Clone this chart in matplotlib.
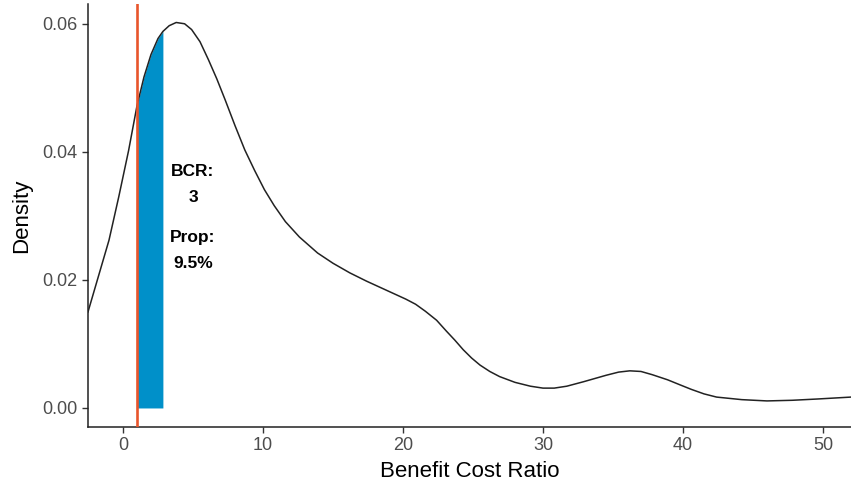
import numpy as np
import matplotlib.pyplot as plt

# density curve (x = benefit cost ratio, y = density)
bcr = [-2.5, -1.75, -1.0, -0.3, 0.4, 1.0, 1.5, 2.0, 2.5, 2.85, 3.3, 3.8,
       4.4, 4.9, 5.5, 6.1, 6.7, 7.3, 8.0, 8.7, 9.4, 10.1, 10.8, 11.6, 12.6,
       13.9, 15.0, 16.2, 17.4, 18.4, 19.4, 20.2, 20.9, 21.6, 22.4, 23.1,
       23.7, 24.3, 24.9, 25.5, 26.2, 26.9, 28.0, 29.1, 30.0, 30.8, 31.7,
       32.9, 34.5, 35.4, 36.2, 37.0, 37.8, 38.9, 39.8, 40.6, 41.5, 42.4,
       44.2, 46.0, 47.8, 49.6, 52.0]
density = [0.0150, 0.0206, 0.0262, 0.0330, 0.0402, 0.0472, 0.0517, 0.0552,
           0.0577, 0.0588, 0.0597, 0.0602, 0.0600, 0.0591, 0.0572, 0.0544,
           0.0514, 0.0481, 0.0441, 0.0403, 0.0371, 0.0341, 0.0316, 0.0291,
           0.0267, 0.0242, 0.0226, 0.0211, 0.0198, 0.0188, 0.0178, 0.0170,
           0.0162, 0.0151, 0.0137, 0.0120, 0.0106, 0.0091, 0.0078, 0.0067,
           0.0057, 0.0049, 0.0040, 0.0034, 0.0031, 0.0031, 0.0034, 0.0041,
           0.0051, 0.0056, 0.0058, 0.0057, 0.0052, 0.0044, 0.0036, 0.0029,
           0.0022, 0.0017, 0.0013, 0.0011, 0.0012, 0.0014, 0.0017]

threshold = 1.0
bcr_value = 2.85
label_bcr = "BCR:\n3"
label_prop = "Prop:\n9.5%"

plt.rcParams["font.family"] = ["Liberation Sans", "DejaVu Sans"]

fig = plt.figure(figsize=(8.51, 4.90), dpi=100)
ax = fig.add_axes([0.1034, 0.1286, 0.8966, 0.8634])

x = np.array(bcr)
y = np.array(density)
mask = (x >= threshold) & (x <= bcr_value)
ax.fill_between(x[mask], 0, y[mask], color="#0090C9", linewidth=0, zorder=2)
ax.plot(x, y, color="#222222", linewidth=1.1, zorder=3,
        solid_joinstyle="round")
ax.axvline(threshold, color="#E8552C", linewidth=1.9, zorder=4)

ax.text(5.0, 0.0349, label_bcr, ha="center", va="center", fontsize=12.5,
        fontweight="bold", linespacing=1.95)
ax.text(5.0, 0.0246, label_prop, ha="center", va="center", fontsize=12.5,
        fontweight="bold", linespacing=1.95)

ax.set_xlim(-2.5, 52.0)
ax.set_ylim(-0.00297, 0.0631)
ax.set_xticks([0, 10, 20, 30, 40, 50])
ax.set_yticks([0.0, 0.02, 0.04, 0.06])
ax.set_yticklabels(["0.00", "0.02", "0.04", "0.06"])
ax.set_xlabel("Benefit Cost Ratio", fontsize=16, color="black", labelpad=5)
ax.set_ylabel("Density", fontsize=16, color="black", labelpad=7)

for side in ["top", "right"]:
    ax.spines[side].set_visible(False)
for side in ["left", "bottom"]:
    ax.spines[side].set_color("#222222")
    ax.spines[side].set_linewidth(1.1)
ax.tick_params(colors="#333333", labelcolor="#4D4D4D", labelsize=13,
               length=4, width=1.0)

fig.savefig("out.png", dpi=100)
